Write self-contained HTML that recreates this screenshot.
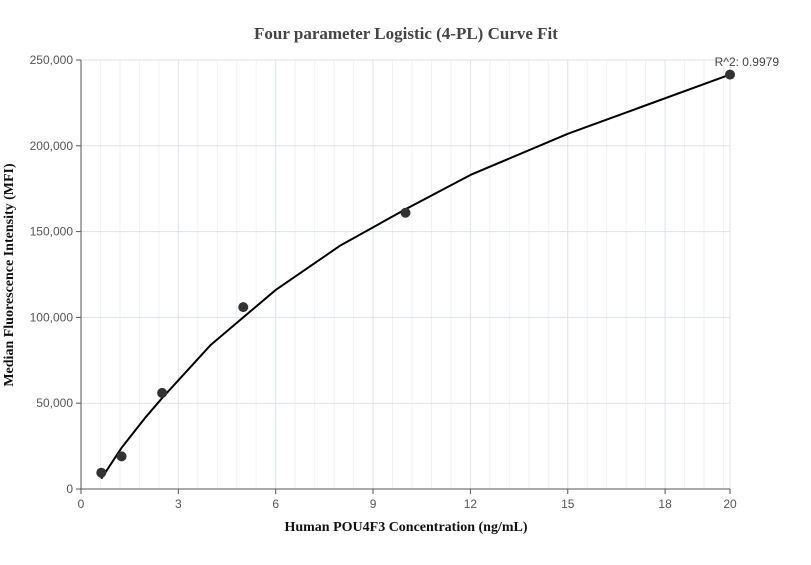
<!DOCTYPE html>
<html><head><meta charset="utf-8"><style>
body{margin:0;background:#fff;width:811px;height:560px;overflow:hidden;font-family:"Liberation Sans",sans-serif}
</style></head><body>
<svg id="chart" width="811" height="560" xmlns="http://www.w3.org/2000/svg">
<text x="406" y="39" text-anchor="middle" font-family="Liberation Serif" font-weight="bold" font-size="17" fill="#444">Four parameter Logistic (4-PL) Curve Fit</text>
<g id="grid"></g><g id="axes"></g><g id="series"></g>
<text x="406" y="531" text-anchor="middle" font-family="Liberation Serif" font-weight="bold" font-size="14" fill="#111">Human POU4F3 Concentration (ng/mL)</text>
<text transform="translate(13,275) rotate(-90)" text-anchor="middle" font-family="Liberation Serif" font-weight="bold" font-size="14" fill="#111">Median Fluorescence Intensity (MFI)</text>
<text x="779" y="66" text-anchor="end" font-size="12" fill="#444">R^2: 0.9979</text>
</svg>
<script>
const xTicks=[0,3,6,9,12,15,18,20];
const yTicks=[0,50000,100000,150000,200000,250000];
const yTickLabels=["0","50,000","100,000","150,000","200,000","250,000"];
const pointX=[0.625,1.25,2.5,5,10,20];
const pointY=[9500,19000,56000,106000,161000,241500];
const curveX=[0.625,1.25,2,2.5,4,5,6,8,10,12,15,20];
const curveY=[6000,24000,42000,53000,84000,100000,116000,142000,163000,183000,207000,241500];
const NS="http://www.w3.org/2000/svg";
const X0=81,X1=730,Y0=489,Y1=60;
const sx=v=>X0+v/20*(X1-X0), sy=v=>Y0-v/250000*(Y0-Y1);
function mk(t,a,p){const e=document.createElementNS(NS,t);for(const k in a)e.setAttribute(k,a[k]);p.appendChild(e);return e;}
const grid=document.getElementById('grid'),axes=document.getElementById('axes'),ser=document.getElementById('series');
for(let v=0.6;v<20;v+=0.6){if(Math.abs(v/3-Math.round(v/3))<0.01)continue;
 const l=mk('line',{x1:sx(v),x2:sx(v),y1:Y1,y2:Y0,stroke:'#eef1f8','stroke-width':1},grid);
 
 }
xTicks.forEach(v=>{if(v>0){const l=mk('line',{x1:sx(v),x2:sx(v),y1:Y1,y2:Y0,stroke:'#dde2ee','stroke-width':1},grid);
 
 }
 const t=mk('text',{x:sx(v),y:Y0+19,'text-anchor':'middle','font-size':12,fill:'#555'},axes);t.textContent=v;
 
 
 mk('line',{x1:sx(v),x2:sx(v),y1:Y0,y2:Y0+5,stroke:'#555'},axes);});
yTicks.forEach((v,i)=>{if(v>0){const l=mk('line',{x1:X0,x2:X1,y1:sy(v),y2:sy(v),stroke:'#dde2ee','stroke-width':1},grid);
 
 }
 const t=mk('text',{x:X0-8,y:sy(v)+4,'text-anchor':'end','font-size':12,fill:'#555'},axes);t.textContent=yTickLabels[i];
 
 
 mk('line',{x1:X0-5,x2:X0,y1:sy(v),y2:sy(v),stroke:'#555'},axes);});
const ax=mk('path',{d:`M${X0},${Y1}V${Y0}H${X1}`,fill:'none',stroke:'#555','stroke-width':1},axes);


const pts=curveX.map((x,i)=>sx(x)+','+sy(curveY[i])).join(' ');
const c=mk('polyline',{points:pts,fill:'none',stroke:'#000','stroke-width':2,'stroke-linejoin':'round'},ser);


pointX.forEach((x,i)=>{const p=mk('circle',{cx:sx(x),cy:sy(pointY[i]),r:5,fill:'#333'},ser);
 
 });
</script>
</body></html>
